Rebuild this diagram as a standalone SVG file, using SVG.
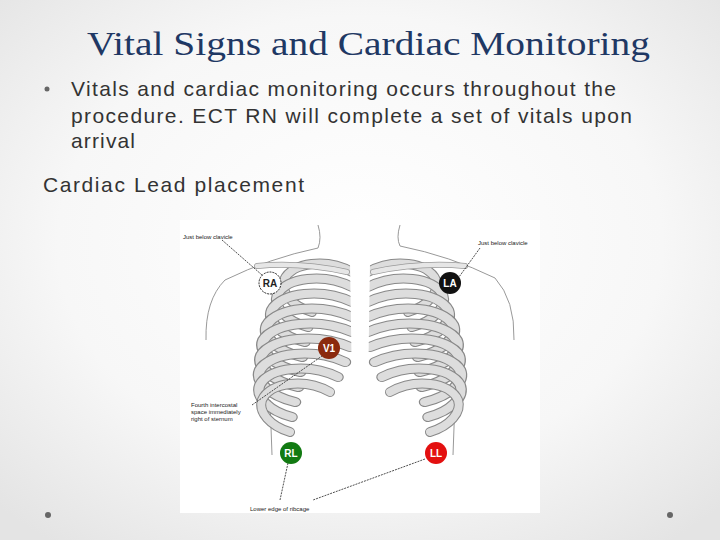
<svg xmlns="http://www.w3.org/2000/svg" width="720" height="540" viewBox="0 0 720 540">
<defs>
<radialGradient id="bg" cx="50%" cy="45%" r="70%">
<stop offset="0" stop-color="#ffffff"/><stop offset="0.6" stop-color="#f7f7f7"/><stop offset="1" stop-color="#e4e4e4"/>
</radialGradient>
<path id="rib" d="M0 0 C-25 -14 -60 -10 -68 8 C-72 20 -60 34 -40 40"/>
</defs>
<style>
.t{font-family:"Liberation Sans",Arial,sans-serif;fill:#333}
.s{font-family:"Liberation Sans",Arial,sans-serif;font-size:6px;fill:#222}
.ro{fill:none;stroke:#888;stroke-width:10;stroke-linecap:round}
.ri{fill:none;stroke:#ddd;stroke-width:8;stroke-linecap:round}
.body{fill:none;stroke:#999;stroke-width:1}
.ld{stroke:#222;stroke-width:0.8;stroke-dasharray:2 1;fill:none}
.et{font-family:"Liberation Sans",Arial,sans-serif;font-size:10px;font-weight:bold;text-anchor:middle}
</style>
<rect width="720" height="540" fill="url(#bg)"/>
<text x="87" y="55" font-family="Liberation Serif,serif" font-size="34" fill="#1f3864" textLength="563" lengthAdjust="spacingAndGlyphs">Vital Signs and Cardiac Monitoring</text>
<circle cx="47" cy="89" r="2.5" fill="#666"/>
<text class="t" font-size="21"><tspan x="71" y="96" textLength="545">Vitals and cardiac monitoring occurs throughout the</tspan></text>
<text class="t" font-size="21"><tspan x="71" y="123" textLength="561">procedure. ECT RN will complete a set of vitals upon</tspan></text>
<text class="t" font-size="21" x="71" y="148" textLength="64">arrival</text>
<text class="t" x="43" y="192" font-size="21" textLength="261">Cardiac Lead placement</text>
<circle cx="48" cy="515" r="3" fill="#666"/><circle cx="670" cy="515" r="3" fill="#666"/>
<g id="figure">
<rect x="180" y="220" width="360" height="293" fill="#fff"/>
<path class="body" d="M318 225 Q322 238 318 248 Q270 258 225 280 Q205 300 206 340 M400 225 Q396 238 400 246 Q450 256 495 278 Q515 300 514 340 M270 400 L272 455 M455 400 L453 455"/>
<g id="ribs">
<g transform="translate(352,272)"><use href="#rib" class="ro"/><use href="#rib" class="ri"/></g>
<g transform="translate(352,287) scale(1.1,1)"><use href="#rib" class="ro"/><use href="#rib" class="ri"/></g>
<g transform="translate(352,302) scale(1.18,1)"><use href="#rib" class="ro"/><use href="#rib" class="ri"/></g>
<g transform="translate(352,317) scale(1.25,1)"><use href="#rib" class="ro"/><use href="#rib" class="ri"/></g>
<g transform="translate(352,332) scale(1.3,1)"><use href="#rib" class="ro"/><use href="#rib" class="ri"/></g>
<g transform="translate(350,347) scale(1.3,1)"><use href="#rib" class="ro"/><use href="#rib" class="ri"/></g>
<g transform="translate(345,362) scale(1.25,1)"><use href="#rib" class="ro"/><use href="#rib" class="ri"/></g>
<g transform="translate(338,377) scale(1.15,1)"><use href="#rib" class="ro"/><use href="#rib" class="ri"/></g>
<g transform="translate(330,392) scale(1.0,1)"><use href="#rib" class="ro"/><use href="#rib" class="ri"/></g>
<g transform="translate(368,272) scale(-1,1)"><use href="#rib" class="ro"/><use href="#rib" class="ri"/></g>
<g transform="translate(368,287) scale(-1.1,1)"><use href="#rib" class="ro"/><use href="#rib" class="ri"/></g>
<g transform="translate(368,302) scale(-1.18,1)"><use href="#rib" class="ro"/><use href="#rib" class="ri"/></g>
<g transform="translate(368,317) scale(-1.25,1)"><use href="#rib" class="ro"/><use href="#rib" class="ri"/></g>
<g transform="translate(368,332) scale(-1.3,1)"><use href="#rib" class="ro"/><use href="#rib" class="ri"/></g>
<g transform="translate(370,347) scale(-1.3,1)"><use href="#rib" class="ro"/><use href="#rib" class="ri"/></g>
<g transform="translate(375,362) scale(-1.25,1)"><use href="#rib" class="ro"/><use href="#rib" class="ri"/></g>
<g transform="translate(382,377) scale(-1.15,1)"><use href="#rib" class="ro"/><use href="#rib" class="ri"/></g>
<g transform="translate(390,392) scale(-1.0,1)"><use href="#rib" class="ro"/><use href="#rib" class="ri"/></g>
</g>
<path d="M350 262 L370 262 L368 390 L352 390 Z" fill="#fff"/>
<path d="M257 266 Q300 262 347 272 M373 272 Q420 262 465 266" fill="none" stroke="#999" stroke-width="6" stroke-linecap="round"/>
<path d="M257 266 Q300 262 347 272 M373 272 Q420 262 465 266" fill="none" stroke="#e6e6e6" stroke-width="4.5" stroke-linecap="round"/>
</g>
<g id="connectors">
<path class="ld" d="M222 240 L262 275"/>
<path class="ld" d="M480 248 L459 277"/>
<path class="ld" d="M252 405 L322 356"/>
<path class="ld" d="M288 463 L280 500"/>
<path class="ld" d="M425 459 L313 500"/>
</g>
<g id="RA"><circle cx="270" cy="283" r="11" fill="#fff" stroke="#222" stroke-dasharray="2 1"/><text class="et" x="270" y="287" fill="#222">RA</text></g>
<g id="LA"><circle cx="450" cy="283" r="11" fill="#111"/><text class="et" x="450" y="287" fill="#fff">LA</text></g>
<g id="V1"><circle cx="329" cy="348" r="11" fill="#8b2a0e"/><text class="et" x="329" y="352" fill="#fff">V1</text></g>
<g id="RL"><circle cx="291" cy="453" r="11" fill="#127a12"/><text class="et" x="291" y="457" fill="#fff">RL</text></g>
<g id="LL"><circle cx="436" cy="453" r="11" fill="#e31010"/><text class="et" x="436" y="457" fill="#fff">LL</text></g>
<text class="s" x="183" y="239">Just below clavicle</text>
<text class="s" x="478" y="245">Just below clavicle</text>
<text class="s"><tspan x="191" y="407">Fourth intercostal</tspan><tspan x="191" y="414">space immediately</tspan><tspan x="191" y="421">right of sternum</tspan></text>
<text class="s" x="250" y="511">Lower edge of ribcage</text>
</svg>
